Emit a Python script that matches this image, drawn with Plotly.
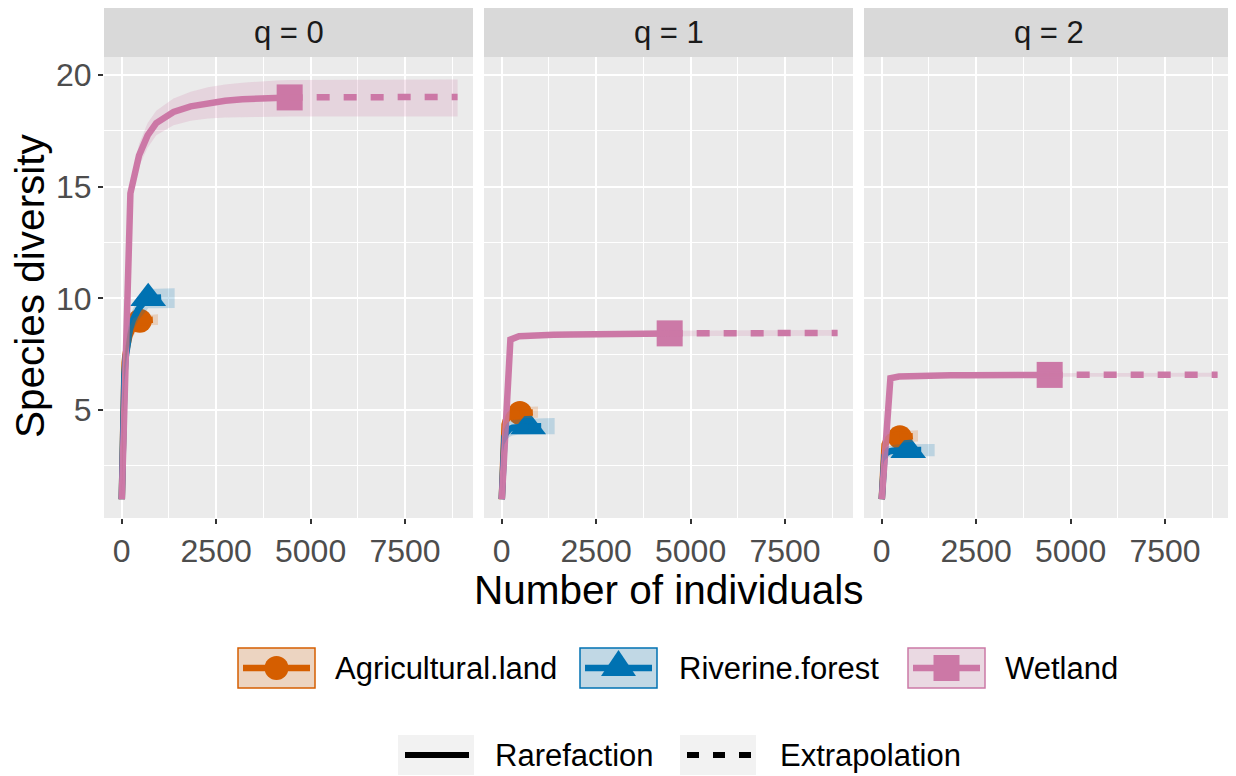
import numpy as np
import plotly.graph_objects as go

# page is rendered with an 8px body margin; the figure is sized/offset to compensate
OFF = 8
W, H = 1236 - OFF, 776 - OFF
FONT = "Liberation Sans, Arial, sans-serif"

# ---------------- data ----------------
orders = ["q = 0", "q = 1", "q = 2"]
sites = ["Agricultural.land", "Riverine.forest", "Wetland"]
methods = ["Rarefaction", "Extrapolation"]
colors = ["#D55E00", "#0072B2", "#CC79A7"]
fills = ["rgba(213,94,0,0.2)", "rgba(0,114,178,0.2)", "rgba(204,121,167,0.2)"]
symbols = ["circle", "triangle-up", "square"]

x_ticks = [0, 2500, 5000, 7500]
x_minor = [1250, 3750, 6250, 8750]
y_ticks = [5, 10, 15, 20]
y_minor = [2.5, 7.5, 12.5, 17.5]

# number of individuals (rarefaction up to observed, then extrapolation)
agri_m = [1, 25, 50, 75, 100, 150, 200, 300, 400, 480, 600, 720, 840, 960]
agri_obs = 480
rive_m = [1, 36, 72, 108, 144, 216, 288, 432, 576, 700, 875, 1050, 1225, 1400]
rive_obs = 700
wet_m = [1, 229, 457, 685, 913, 1370, 1826, 2282, 2738, 3194, 3650, 4106, 4446,
         5500, 6500, 7500, 8892]
wet_obs = 4446

# Agricultural.land
agri_q0_est = [1, 5.0, 6.4, 7.1, 7.5, 8.0, 8.3, 8.7, 8.9, 9.0, 9.02, 9.03, 9.04, 9.05]
agri_q0_lo = [1, 4.8, 6.1, 6.75, 7.15, 7.6, 7.9, 8.3, 8.6, 8.78, 8.79, 8.8, 8.8, 8.8]
agri_q0_hi = [1, 5.2, 6.7, 7.45, 7.85, 8.4, 8.7, 9.1, 9.2, 9.22, 9.25, 9.27, 9.28, 9.29]
agri_q1_est = [1, 3.6, 4.1, 4.35, 4.5, 4.65, 4.72, 4.8, 4.84, 4.86, 4.88, 4.89, 4.9, 4.9]
agri_q1_lo = [1, 3.4, 3.85, 4.1, 4.25, 4.4, 4.47, 4.55, 4.59, 4.61, 4.63, 4.64, 4.65, 4.65]
agri_q1_hi = [1, 3.8, 4.35, 4.6, 4.75, 4.9, 4.97, 5.05, 5.09, 5.11, 5.13, 5.14, 5.15, 5.15]
agri_q2_est = [1, 2.9, 3.3, 3.45, 3.55, 3.65, 3.7, 3.75, 3.77, 3.78, 3.8, 3.82, 3.83, 3.84]
agri_q2_lo = [1, 2.7, 3.05, 3.2, 3.3, 3.4, 3.45, 3.5, 3.52, 3.53, 3.55, 3.57, 3.58, 3.59]
agri_q2_hi = [1, 3.1, 3.55, 3.7, 3.8, 3.9, 3.95, 4.0, 4.02, 4.03, 4.05, 4.07, 4.08, 4.09]

# Riverine.forest
rive_q0_est = [1, 5.2, 6.6, 7.4, 7.9, 8.6, 9.0, 9.5, 9.8, 10.0, 10.03, 10.05, 10.06, 10.07]
rive_q0_lo = [1, 4.9, 6.2, 6.95, 7.45, 8.1, 8.5, 9.0, 9.3, 9.55, 9.56, 9.57, 9.57, 9.57]
rive_q0_hi = [1, 5.5, 7.0, 7.85, 8.35, 9.1, 9.5, 10.0, 10.3, 10.42, 10.43, 10.44, 10.45, 10.45]
rive_q1_est = [1, 3.4, 3.8, 3.95, 4.05, 4.15, 4.2, 4.24, 4.25, 4.26, 4.27, 4.27, 4.28, 4.28]
rive_q1_lo = [1, 3.1, 3.45, 3.6, 3.7, 3.8, 3.85, 3.89, 3.9, 3.91, 3.91, 3.91, 3.91, 3.91]
rive_q1_hi = [1, 3.7, 4.15, 4.3, 4.4, 4.5, 4.55, 4.59, 4.6, 4.61, 4.62, 4.63, 4.64, 4.64]
rive_q2_est = [1, 2.7, 2.95, 3.05, 3.1, 3.15, 3.17, 3.19, 3.2, 3.2, 3.21, 3.21, 3.21, 3.21]
rive_q2_lo = [1, 2.5, 2.72, 2.8, 2.85, 2.9, 2.91, 2.92, 2.93, 2.93, 2.93, 2.93, 2.93, 2.93]
rive_q2_hi = [1, 2.9, 3.18, 3.3, 3.35, 3.4, 3.43, 3.46, 3.47, 3.47, 3.48, 3.48, 3.48, 3.48]

# Wetland
wet_q0_est = [1, 14.7, 16.4, 17.3, 17.85, 18.35, 18.6, 18.75, 18.85, 18.92, 18.96, 18.99,
              19.0, 19.01, 19.02, 19.02, 19.02]
wet_q0_lo = [1, 14.2, 15.9, 16.75, 17.3, 17.75, 17.95, 18.05, 18.1, 18.12, 18.13, 18.14,
             18.15, 18.15, 18.15, 18.15, 18.15]
wet_q0_hi = [1, 15.2, 16.9, 17.85, 18.4, 18.95, 19.25, 19.45, 19.58, 19.66, 19.72, 19.76,
             19.78, 19.79, 19.8, 19.8, 19.8]
wet_q1_est = [1, 8.15, 8.3, 8.33, 8.35, 8.37, 8.38, 8.39, 8.4, 8.41, 8.42, 8.43,
              8.43, 8.44, 8.44, 8.45, 8.45]
wet_q1_lo = [1, 8.03, 8.18, 8.21, 8.23, 8.25, 8.26, 8.27, 8.28, 8.29, 8.3, 8.31,
             8.31, 8.31, 8.31, 8.32, 8.32]
wet_q1_hi = [1, 8.27, 8.42, 8.45, 8.47, 8.49, 8.5, 8.51, 8.52, 8.53, 8.54, 8.55,
             8.55, 8.57, 8.57, 8.58, 8.58]
wet_q2_est = [1, 6.42, 6.5, 6.52, 6.53, 6.54, 6.55, 6.55, 6.56, 6.56, 6.57, 6.57,
              6.57, 6.58, 6.58, 6.58, 6.58]
wet_q2_lo = [1, 6.34, 6.42, 6.44, 6.45, 6.46, 6.47, 6.47, 6.48, 6.48, 6.49, 6.49,
             6.49, 6.49, 6.49, 6.49, 6.49]
wet_q2_hi = [1, 6.5, 6.58, 6.6, 6.61, 6.62, 6.63, 6.63, 6.64, 6.64, 6.65, 6.65,
             6.65, 6.67, 6.67, 6.67, 6.67]

site_m = [agri_m, rive_m, wet_m]
site_obs = [agri_obs, rive_obs, wet_obs]
est = [[agri_q0_est, agri_q1_est, agri_q2_est],
       [rive_q0_est, rive_q1_est, rive_q2_est],
       [wet_q0_est, wet_q1_est, wet_q2_est]]
lo = [[agri_q0_lo, agri_q1_lo, agri_q2_lo],
      [rive_q0_lo, rive_q1_lo, rive_q2_lo],
      [wet_q0_lo, wet_q1_lo, wet_q2_lo]]
hi = [[agri_q0_hi, agri_q1_hi, agri_q2_hi],
      [rive_q0_hi, rive_q1_hi, rive_q2_hi],
      [wet_q0_hi, wet_q1_hi, wet_q2_hi]]

# ---------------- style / layout (screen pixel positions) ----------------
msizes = [24, 31, 26]
LW = 6.5
DASH = "13px,14px"
panel_x = [(104, 473), (484, 853), (864, 1233)]
panel_y = (57, 518)
strip_y = (7, 57)
x_range = [-470, 9300]
y_range = [0.16, 20.81]


def px(x):
    return (x - OFF) / W


def py(y):
    return 1 - (y - OFF) / H


fig = go.Figure()

for qi in range(3):
    xa = "x" if qi == 0 else f"x{qi + 1}"
    ya = "y" if qi == 0 else f"y{qi + 1}"
    # points first (ggiNEXT layering)
    for si in range(3):
        m = site_m[si]
        k = m.index(site_obs[si])
        fig.add_trace(go.Scatter(
            x=[m[k]], y=[est[si][qi][k]], xaxis=xa, yaxis=ya, mode="markers",
            marker=dict(symbol=symbols[si], size=msizes[si], color=colors[si],
                        line=dict(width=0)),
            showlegend=False, hoverinfo="skip"))
    # lines
    for si in range(3):
        m = site_m[si]
        k = m.index(site_obs[si])
        e = est[si][qi]
        fig.add_trace(go.Scatter(
            x=m[:k + 1], y=e[:k + 1], xaxis=xa, yaxis=ya, mode="lines",
            line=dict(color=colors[si], width=LW), showlegend=False, hoverinfo="skip"))
        fig.add_trace(go.Scatter(
            x=m[k:], y=e[k:], xaxis=xa, yaxis=ya, mode="lines",
            line=dict(color=colors[si], width=LW, dash=DASH),
            showlegend=False, hoverinfo="skip"))
    # ribbons on top
    for si in range(3):
        m = np.array(site_m[si])
        l = np.array(lo[si][qi])
        h = np.array(hi[si][qi])
        fig.add_trace(go.Scatter(
            x=np.concatenate([m, m[::-1]]), y=np.concatenate([l, h[::-1]]),
            xaxis=xa, yaxis=ya, mode="lines", fill="toself", fillcolor=fills[si],
            line=dict(color="rgba(0,0,0,0)", width=0), showlegend=False,
            hoverinfo="skip"))

layout = dict(
    width=W, height=H, margin=dict(l=0, r=0, t=0, b=0),
    paper_bgcolor="white", plot_bgcolor="#EBEBEB", showlegend=False,
    font=dict(family=FONT), hovermode=False,
)
for qi in range(3):
    xk = "xaxis" if qi == 0 else f"xaxis{qi + 1}"
    yk = "yaxis" if qi == 0 else f"yaxis{qi + 1}"
    ya = "y" if qi == 0 else f"y{qi + 1}"
    xa = "x" if qi == 0 else f"x{qi + 1}"
    layout[xk] = dict(
        domain=[px(panel_x[qi][0]), min(1.0, px(panel_x[qi][1]))], anchor=ya, range=x_range,
        tickmode="array", tickvals=x_ticks, ticktext=[str(v) for v in x_ticks],
        ticks="outside", ticklen=5, tickwidth=2, tickcolor="#333333",
        tickfont=dict(size=32, color="#4D4D4D", family=FONT),
        showgrid=True, gridcolor="white", gridwidth=2.2, zeroline=False, showline=False,
        minor=dict(tickmode="array", tickvals=x_minor, showgrid=True,
                   gridcolor="white", gridwidth=1.1, ticks=""),
        fixedrange=True,
    )
    layout[yk] = dict(
        domain=[py(panel_y[1]), py(panel_y[0])], anchor=xa, range=y_range,
        tickmode="array", tickvals=y_ticks, ticktext=[str(v) for v in y_ticks],
        ticks="outside" if qi == 0 else "", ticklen=5, tickwidth=2, tickcolor="#333333",
        showticklabels=(qi == 0),
        tickfont=dict(size=32, color="#4D4D4D", family=FONT),
        showgrid=True, gridcolor="white", gridwidth=2.2, zeroline=False, showline=False,
        minor=dict(tickmode="array", tickvals=y_minor, showgrid=True,
                   gridcolor="white", gridwidth=1.1, ticks=""),
        fixedrange=True,
    )
    if qi > 0:
        layout[yk]["matches"] = "y"

fig.update_layout(**layout)

shapes = []
annotations = []

# strips
for qi in range(3):
    x0, x1 = panel_x[qi]
    shapes.append(dict(type="rect", xref="paper", yref="paper",
                       x0=px(x0), x1=min(1.0, px(x1)), y0=py(strip_y[1]), y1=py(strip_y[0]),
                       fillcolor="#D9D9D9", line=dict(width=0), layer="below"))
    annotations.append(dict(xref="paper", yref="paper", x=px((x0 + x1) / 2),
                            y=py((strip_y[0] + strip_y[1]) / 2), text=orders[qi],
                            showarrow=False, xanchor="center", yanchor="middle",
                            font=dict(size=31, color="#1A1A1A", family=FONT)))

# axis titles
annotations.append(dict(xref="paper", yref="paper", x=px(30), y=py(286),
                        text="Species diversity", textangle=-90, showarrow=False,
                        xanchor="center", yanchor="middle",
                        font=dict(size=40.5, color="black", family=FONT)))
annotations.append(dict(xref="paper", yref="paper", x=px(668), y=py(590),
                        text="Number of individuals", showarrow=False,
                        xanchor="center", yanchor="middle",
                        font=dict(size=40.5, color="black", family=FONT)))

# legend row 1 (sites)
key_w, key_h = 77, 40
row1_y = 668
site_key_x = [238, 580, 908]
site_text_x = [333, 677, 1003]
for si in range(3):
    bx = site_key_x[si]
    cx = bx + key_w / 2
    shapes.append(dict(type="rect", xref="paper", yref="paper",
                       x0=px(bx), x1=px(bx + key_w), y0=py(row1_y + key_h / 2),
                       y1=py(row1_y - key_h / 2), fillcolor="#F2F2F2",
                       line=dict(width=0)))
    shapes.append(dict(type="line", xref="paper", yref="paper",
                       x0=px(bx + 5), x1=px(bx + key_w - 5), y0=py(row1_y), y1=py(row1_y),
                       line=dict(color=colors[si], width=LW)))
    if symbols[si] == "circle":
        r = msizes[si] / 2
        shapes.append(dict(type="circle", xref="paper", yref="paper",
                           x0=px(cx - r), x1=px(cx + r), y0=py(row1_y + r), y1=py(row1_y - r),
                           fillcolor=colors[si], line=dict(width=0)))
    elif symbols[si] == "triangle-up":
        path = (f"M {px(cx - 17.5)},{py(row1_y + 8)} L {px(cx + 17.5)},{py(row1_y + 8)} "
                f"L {px(cx)},{py(row1_y - 18)} Z")
        shapes.append(dict(type="path", xref="paper", yref="paper", path=path,
                           fillcolor=colors[si], line=dict(width=0)))
    else:
        r = msizes[si] / 2
        shapes.append(dict(type="rect", xref="paper", yref="paper",
                           x0=px(cx - r), x1=px(cx + r), y0=py(row1_y + r), y1=py(row1_y - r),
                           fillcolor=colors[si], line=dict(width=0)))
    shapes.append(dict(type="rect", xref="paper", yref="paper",
                       x0=px(bx), x1=px(bx + key_w), y0=py(row1_y + key_h / 2),
                       y1=py(row1_y - key_h / 2), fillcolor=fills[si],
                       line=dict(color=colors[si], width=1.5)))
    annotations.append(dict(xref="paper", yref="paper", x=px(site_text_x[si]), y=py(row1_y),
                            text=sites[si], showarrow=False, xanchor="left",
                            yanchor="middle", font=dict(size=31, color="black", family=FONT)))

# legend row 2 (methods)
row2_y = 755
meth_key_x = [398, 680]
meth_text_x = [493, 778]
for mi in range(2):
    bx = meth_key_x[mi]
    shapes.append(dict(type="rect", xref="paper", yref="paper",
                       x0=px(bx), x1=px(bx + 76), y0=py(min(776, row2_y + key_h / 2)),
                       y1=py(row2_y - key_h / 2), fillcolor="#F2F2F2",
                       line=dict(width=0)))
    shapes.append(dict(type="line", xref="paper", yref="paper",
                       x0=px(bx + 7), x1=px(bx + 71), y0=py(row2_y), y1=py(row2_y),
                       line=dict(color="black", width=6,
                                 dash="solid" if mi == 0 else "12px,14px")))
    annotations.append(dict(xref="paper", yref="paper", x=px(meth_text_x[mi]), y=py(row2_y),
                            text=methods[mi], showarrow=False, xanchor="left",
                            yanchor="middle", font=dict(size=31, color="black", family=FONT)))

fig.update_layout(shapes=shapes, annotations=annotations)
fig.write_html("out.html")
